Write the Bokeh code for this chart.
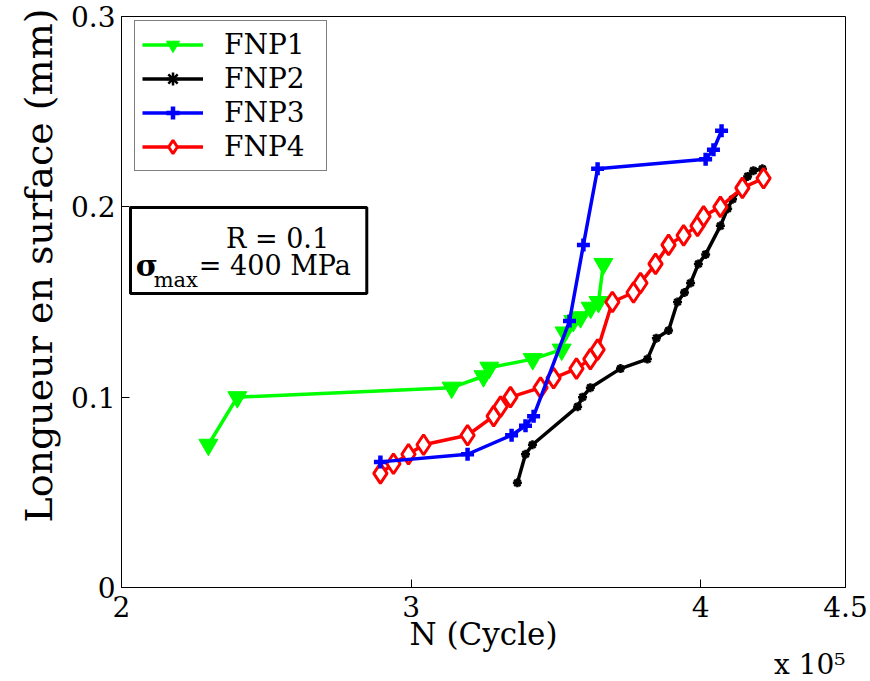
from bokeh.plotting import figure
from bokeh.models import (Range1d, FixedTicker, Legend, LegendItem, Label, BoxAnnotation, Title)
from bokeh.embed import file_html
from bokeh.resources import INLINE

# Data (N in units of 1e5 cycles, length in mm)
fnp1_n = [2.30, 2.40, 3.14, 3.25, 3.27, 3.42, 3.52, 3.53, 3.56, 3.585, 3.62, 3.647, 3.664]
fnp1_l = [0.075, 0.100, 0.105, 0.111, 0.1155, 0.120, 0.125, 0.134, 0.140, 0.142, 0.147, 0.150, 0.170]

fnp2_n = [3.367, 3.395, 3.419, 3.575, 3.592, 3.619, 3.723, 3.816, 3.847, 3.889, 3.920, 3.944,
          3.965, 3.992, 4.017, 4.068, 4.093, 4.110, 4.137, 4.162, 4.182, 4.213]
fnp2_l = [0.055, 0.070, 0.075, 0.095, 0.100, 0.105, 0.115, 0.120, 0.131, 0.135, 0.150, 0.155,
          0.160, 0.170, 0.175, 0.190, 0.199, 0.204, 0.209, 0.216, 0.219, 0.220]

fnp3_n = [2.894, 3.195, 3.347, 3.395, 3.423, 3.547, 3.595, 3.644, 4.017, 4.044, 4.072]
fnp3_l = [0.066, 0.070, 0.080, 0.085, 0.090, 0.140, 0.180, 0.220, 0.225, 0.230, 0.240]

fnp4_n = [2.894, 2.939, 2.991, 3.043, 3.195, 3.285, 3.309, 3.343, 3.447, 3.492, 3.571, 3.619,
          3.644, 3.695, 3.768, 3.792, 3.844, 3.889, 3.941, 3.989, 4.010, 4.068, 4.144, 4.217]
fnp4_l = [0.060, 0.065, 0.070, 0.075, 0.080, 0.090, 0.095, 0.100, 0.105, 0.110, 0.115, 0.120,
          0.125, 0.150, 0.155, 0.160, 0.170, 0.180, 0.185, 0.190, 0.195, 0.200, 0.210, 0.215]

x_ticks = [2, 3, 4, 4.5]
x_tick_labels = ["2", "3", "4", "4.5"]
y_ticks = [0, 0.1, 0.2, 0.3]
y_tick_labels = ["0", "0.1", "0.2", "0.3"]

SERIF = "DejaVu Serif"

p = figure(width=868, height=680, frame_width=724, frame_height=571,
           min_border_left=121, min_border_top=16, min_border_right=23, min_border_bottom=93,
           x_range=Range1d(2, 4.5), y_range=Range1d(0, 0.3),
           output_backend="svg", toolbar_location=None)
p.xgrid.visible = False
p.ygrid.visible = False
p.outline_line_color = "black"
p.outline_line_width = 1
p.background_fill_color = "white"
p.border_fill_color = "white"

for ax in (p.xaxis[0], p.yaxis[0]):
    ax.major_tick_in = 8
    ax.major_tick_out = 0
    ax.minor_tick_in = 0
    ax.minor_tick_out = 0
    ax.axis_line_color = "black"
    ax.major_tick_line_color = "black"
    ax.major_label_text_font = SERIF
    ax.major_label_text_font_size = "28px"
    ax.major_label_text_color = "black"
    ax.axis_label_text_font = SERIF
    ax.axis_label_text_font_style = "normal"
    ax.axis_label_text_color = "black"

p.xaxis.ticker = FixedTicker(ticks=x_ticks)
p.xaxis.major_label_overrides = {t: s for t, s in zip(x_ticks, x_tick_labels)}
p.yaxis.ticker = FixedTicker(ticks=y_ticks)
p.yaxis.major_label_overrides = {t: s for t, s in zip(y_ticks, y_tick_labels)}
p.xaxis.major_label_standoff = 8
p.yaxis.major_label_standoff = 6
p.xaxis.axis_label = "N (Cycle)"
p.xaxis.axis_label_text_font_size = "31px"
p.xaxis.axis_label_standoff = -4

# Series
l1 = p.line(fnp1_n, fnp1_l, line_color="#00ff00", line_width=3.5)
m1 = p.scatter(fnp1_n, fnp1_l, marker="inverted_triangle", size=19, fill_color="#00ff00",
               line_color="#00ff00", line_width=1)
l2 = p.line(fnp2_n, fnp2_l, line_color="black", line_width=3.5)
m2 = p.scatter(fnp2_n, fnp2_l, marker="asterisk", size=9, line_color="black", line_width=2.5)
l4 = p.line(fnp4_n, fnp4_l, line_color="#ff0000", line_width=3.5)
m4 = p.scatter(fnp4_n, fnp4_l, marker="diamond", size=20, fill_color="white",
               line_color="#ff0000", line_width=3)
l3 = p.line(fnp3_n, fnp3_l, line_color="#0000ff", line_width=3.5)
m3 = p.scatter(fnp3_n, fnp3_l, marker="cross", size=13, line_color="#0000ff", line_width=4.5)

legend = Legend(items=[
    LegendItem(label="FNP1", renderers=[l1, m1]),
    LegendItem(label="FNP2", renderers=[l2, m2]),
    LegendItem(label="FNP3", renderers=[l3, m3]),
    LegendItem(label="FNP4", renderers=[l4, m4]),
], location=(13, 416))
legend.label_text_font = SERIF
legend.label_text_font_size = "28px"
legend.label_text_color = "black"
legend.glyph_width = 61
legend.glyph_height = 33
legend.label_height = 33
legend.label_width = 95
legend.label_standoff = 21
legend.spacing = 1
legend.padding = 7
legend.margin = 0
legend.border_line_color = "black"
legend.border_line_width = 1
legend.background_fill_color = "white"
legend.background_fill_alpha = 1
p.add_layout(legend, "center")

# Annotation box with R and sigma_max
p.add_layout(BoxAnnotation(left=2.031, right=2.847, top=0.1997, bottom=0.1545,
                           fill_alpha=0, line_color="black", line_alpha=1, line_width=3))
p.add_layout(Label(x=2.361, y=0.1834, text="R = 0.1", text_font=SERIF, text_font_size="27px",
                   text_color="black", text_baseline="alphabetic"))
p.add_layout(Label(x=2.049, y=0.1692, text="σ", text_font=SERIF, text_font_size="30px",
                   text_font_style="bold", text_color="black", text_baseline="alphabetic"))
p.add_layout(Label(x=2.111, y=0.1613, text="max", text_font=SERIF, text_font_size="21px",
                   text_color="black", text_baseline="alphabetic"))
p.add_layout(Label(x=2.267, y=0.1692, text="= 400 MPa", text_font=SERIF, text_font_size="27px",
                   text_color="black", text_baseline="alphabetic"))

# Y axis title (placed toward the top of the axis, as in the reference)
p.add_layout(Title(text="Longueur en surface (mm)", align="right", vertical_align="top",
                   text_font=SERIF, text_font_size="38px", text_font_style="normal",
                   text_color="black", standoff=10, offset=-8), "left")

# Exponent of the x axis, below the axis title
p.add_layout(Title(text="x 10⁵", align="right", text_font=SERIF, text_font_size="28px",
                   text_font_style="normal", text_color="black", standoff=-17), "below")

open("out.html", "w").write(file_html(p, INLINE))
